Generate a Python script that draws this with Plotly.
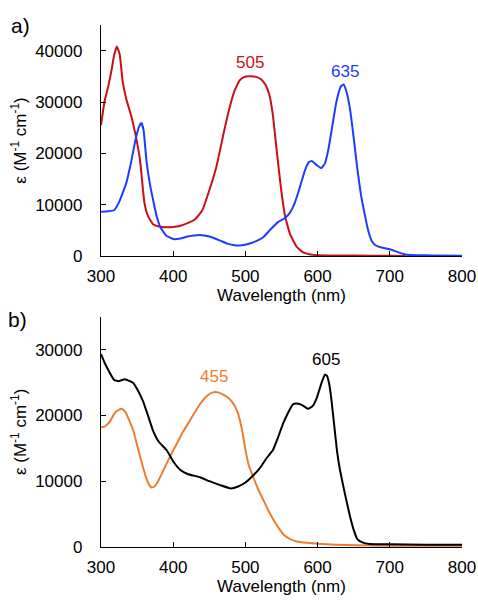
import plotly.graph_objects as go

# ---------------- data ----------------
# Panel a) red dye (λmax 505)
wl_red = [300, 305, 310, 315, 318, 322, 326, 330, 335, 342, 348, 354, 360, 365, 372, 380, 390, 400,
          410, 420, 430, 440, 450, 460, 470, 477, 485, 492, 498, 505, 515, 522, 528, 533, 538, 543,
          549, 555, 562, 571, 580, 590, 600, 650, 700, 722]
eps_red = [25500, 30200, 33000, 36500, 39000, 40800, 39200, 34000, 30600, 27200, 23500, 18700, 10500,
           7800, 6200, 5750, 5600, 5650, 5900, 6400, 7100, 8800, 12800, 17500, 24000, 28300, 32200,
           34200, 34850, 35000, 34900, 34400, 33300, 31500, 27500, 21000, 13500, 7700, 4200, 1800,
           700, 300, 150, 80, 50, 0]

# Panel a) blue dye (λmax 635)
wl_blue = [300, 310, 318, 325, 335, 342, 348, 353, 356, 359, 363, 368, 372, 377, 382, 390, 400, 410,
           420, 437, 450, 465, 475, 485, 495, 505, 515, 525, 535, 545, 555, 562, 568, 575, 582, 588,
           592, 598, 605, 610, 615, 620, 626, 632, 636, 640, 645, 650, 655, 660, 665, 670, 675, 680,
           690, 700, 712, 723, 740, 760, 800]
eps_blue = [8600, 8700, 8900, 10500, 14200, 18500, 22800, 25300, 25900, 24500, 18500, 13800, 11000,
            7800, 5700, 4000, 3300, 3400, 3800, 4100, 3800, 3000, 2400, 2100, 2100, 2400, 2900, 3700,
            5200, 6600, 7400, 8500, 10200, 13200, 16500, 18300, 18500, 17800, 17100, 18000, 20800,
            25000, 30000, 33000, 33400, 32000, 28500, 23000, 17000, 12000, 8300, 5000, 2900, 2100,
            1600, 1300, 700, 250, 150, 100, 50]

# Panel b) black dye (λmax 605)
wl_black = [300, 305, 312, 318, 324, 333, 340, 345, 350, 358, 365, 372, 380, 391, 400, 410, 420, 437,
            450, 465, 480, 490, 500, 511, 520, 530, 538, 545, 552, 560, 566, 570, 578, 587, 593, 599,
            605, 610, 613, 616, 619, 623, 627, 631, 638, 645, 650, 655, 662, 672, 700, 750, 800]
eps_black = [29300, 28000, 26500, 25400, 25200, 25500, 25200, 24900, 24000, 22200, 20000, 17700,
             16000, 14700, 13000, 11700, 11100, 10600, 10000, 9400, 8900, 9200, 9800, 10900, 12000,
             13600, 14700, 16600, 18700, 20600, 21700, 21800, 21600, 21000, 21400, 22700, 24800,
             26200, 26000, 24800, 22500, 18500, 14500, 11700, 8000, 4600, 2600, 1200, 700, 450, 400,
             350, 350]

# Panel b) orange dye (λmax 455)
wl_orange = [300, 305, 312, 318, 324, 329, 334, 340, 345, 350, 356, 362, 367, 370, 374, 380, 391, 400,
             405, 413, 423, 437, 447, 455, 462, 470, 477, 485, 490, 495, 500, 505, 511, 518, 525, 532,
             539, 546, 553, 562, 571, 585, 601, 625, 654, 700, 750, 800]
eps_orange = [18200, 18300, 19000, 20200, 20800, 21000, 20500, 19000, 17600, 15500, 13000, 10700,
              9400, 9050, 9200, 10200, 12700, 14700, 15700, 17400, 19200, 21700, 23000, 23500, 23500,
              23100, 22600, 21500, 20200, 18000, 14800, 12300, 10600, 8700, 7100, 5500, 4100, 2900,
              1850, 1200, 850, 650, 500, 350, 250, 200, 200, 200]

# peak labels
labels_a = ["505", "635"]
labels_a_x = [507, 638]
labels_a_y = [35000, 33400]
labels_b = ["455", "605"]
labels_b_x = [456, 611]
labels_b_y = [23500, 26200]

x_ticks = [300, 400, 500, 600, 700, 800]

RED = "rgb(200,16,22)"
BLUE = "rgb(30,60,255)"
ORANGE = "rgb(237,125,49)"
BLACK = "black"
FONT = "Liberation Sans, Arial, Helvetica, sans-serif"

LINE_SMOOTH = 0.35

fig = go.Figure()
fig.add_trace(go.Scatter(x=wl_red, y=eps_red, mode="lines",
                         line=dict(color=RED, width=2, shape="spline", smoothing=LINE_SMOOTH),
                         xaxis="x", yaxis="y", showlegend=False))
fig.add_trace(go.Scatter(x=wl_blue, y=eps_blue, mode="lines",
                         line=dict(color=BLUE, width=2, shape="spline", smoothing=LINE_SMOOTH),
                         xaxis="x", yaxis="y", showlegend=False))
fig.add_trace(go.Scatter(x=wl_orange, y=eps_orange, mode="lines",
                         line=dict(color=ORANGE, width=2, shape="spline", smoothing=LINE_SMOOTH),
                         xaxis="x2", yaxis="y2", showlegend=False))
fig.add_trace(go.Scatter(x=wl_black, y=eps_black, mode="lines",
                         line=dict(color=BLACK, width=2, shape="spline", smoothing=LINE_SMOOTH),
                         xaxis="x2", yaxis="y2", showlegend=False))

xcommon = dict(range=[300, 800], tickvals=x_ticks, showline=True, linecolor="black", linewidth=1.3,
               ticks="inside", ticklen=5, tickcolor="black", showgrid=False, zeroline=False,
               automargin=False, ticklabeloverflow="allow",
               tickfont=dict(size=17, color="black"), ticklabelstandoff=4,
               title=dict(text="Wavelength (nm)", font=dict(size=17, color="black"), standoff=4))
ycommon = dict(showline=True, linecolor="black", linewidth=1.3, ticks="inside", ticklen=5,
               tickcolor="black", showgrid=False, zeroline=False, dtick=10000, tickformat="d",
               automargin=False, ticklabeloverflow="allow",
               tickfont=dict(size=17, color="black"), ticklabelstandoff=14,
               title=dict(text="ε (M<sup>-1</sup> cm<sup>-1</sup>)", font=dict(size=17, color="black"), standoff=4))

fig.update_layout(
    width=478, height=602,
    margin=dict(l=101, r=16, t=25, b=55),
    paper_bgcolor="white", plot_bgcolor="white",
    font=dict(family=FONT, size=17, color="black"),
    xaxis=dict(domain=[0, 1], anchor="y", **xcommon),
    yaxis=dict(domain=[0.5575, 1], anchor="x", range=[0, 45000], **ycommon),
    xaxis2=dict(domain=[0, 1], anchor="y2", **xcommon),
    yaxis2=dict(domain=[0, 0.4412], anchor="x2", range=[0, 35000], **ycommon),
)

anns = []
for t, x, y, c in zip(labels_a, labels_a_x, labels_a_y, [RED, BLUE]):
    anns.append(dict(text=t, x=x, y=y, xref="x", yref="y", showarrow=False, yanchor="bottom",
                     yshift=2, font=dict(size=17, color=c)))
for t, x, y, c in zip(labels_b, labels_b_x, labels_b_y, [ORANGE, BLACK]):
    anns.append(dict(text=t, x=x, y=y, xref="x2", yref="y2", showarrow=False, yanchor="bottom",
                     yshift=4, font=dict(size=17, color=c)))
anns.append(dict(text="a)", x=-0.224, y=1.0, xref="paper", yref="paper", showarrow=False,
                 xanchor="center", yanchor="middle", font=dict(size=21, color="black")))
anns.append(dict(text="b)", x=-0.23, y=0.435, xref="paper", yref="paper", showarrow=False,
                 xanchor="center", yanchor="middle", font=dict(size=21, color="black")))
fig.update_layout(annotations=anns)

# remove the browser's default 8px body margin so the 478x602 figure fills the window exactly
fig.write_html("out.html", config={"displayModeBar": False},
               post_script="document.body.style.margin='0';document.body.style.overflow='hidden';")
